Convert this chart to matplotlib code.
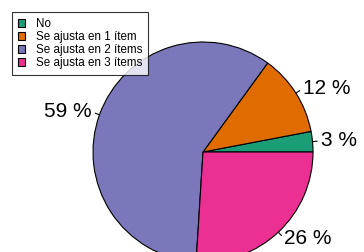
import numpy as np
import matplotlib.pyplot as plt

# data
labels = ["No", "Se ajusta en 1 ítem", "Se ajusta en 2 ítems", "Se ajusta en 3 ítems"]
values = [3, 12, 59, 26]
colors = ["#1b9e77", "#e06c00", "#7b77bb", "#ec2f92"]

plt.rcParams['font.family'] = ['Liberation Sans', 'DejaVu Sans']

fig = plt.figure(figsize=(3.64, 2.52), dpi=100)
ax = fig.add_axes([0, 0, 1, 1])

# pie centre/radius in pixels
cx, cy, R = 203, 252 - 152, 110
wedges, _ = ax.pie(values, colors=colors, startangle=0, counterclock=True,
                   radius=1, center=(0, 0),
                   wedgeprops=dict(edgecolor="black", linewidth=0.8))

ax.set_xlim(-cx / R, (364 - cx) / R)
ax.set_ylim(-cy / R, (252 - cy) / R)
ax.set_aspect('equal')
ax.axis('off')

# labels with short leader ticks
cum = np.cumsum(values)
for v, c in zip(values, cum):
    ang = np.deg2rad((c - v / 2) / sum(values) * 360)
    ca, sa = np.cos(ang), np.sin(ang)
    ax.plot([ca * 1.0, ca * 1.04], [sa * 1.0, sa * 1.04], color="black", lw=0.8)
    ax.text(ca * 1.08, sa * 1.08, f"{v} %", fontsize=15,
            ha="left" if ca > 0 else "right", va="center")

leg = ax.legend(wedges, labels, loc="upper left",
                bbox_to_anchor=(12 / 364, 1 - 12 / 252),
                bbox_transform=fig.transFigure,
                fontsize=8.4, frameon=True, fancybox=False,
                handlelength=0.65, handleheight=0.65, handletextpad=0.9,
                labelspacing=0.1, borderpad=0.5, borderaxespad=0)
leg.get_frame().set_edgecolor("black")
leg.get_frame().set_linewidth(0.8)
for h in leg.legend_handles:
    h.set_edgecolor("black")
    h.set_linewidth(0.8)

fig.savefig("out.png", dpi=100)
